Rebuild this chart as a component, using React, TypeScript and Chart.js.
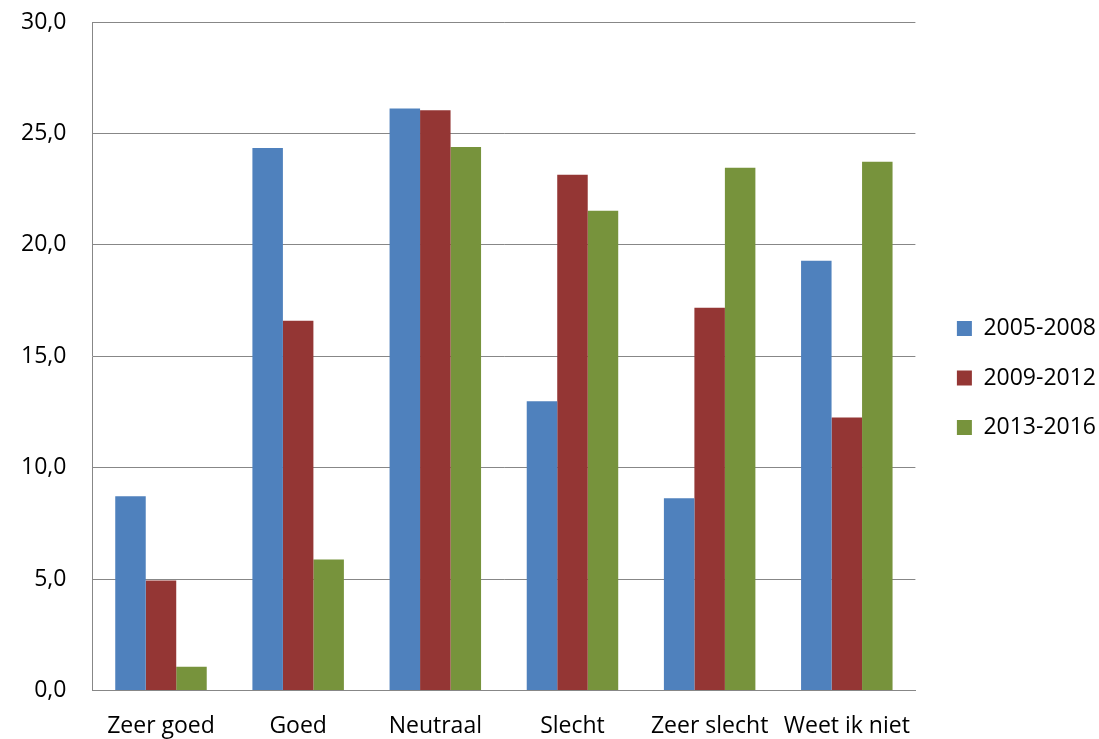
import React, { useEffect, useRef } from "react";
import { Chart, registerables } from "chart.js";

Chart.register(...registerables);

const categories = ["Zeer goed", "Goed", "Neutraal", "Slecht", "Zeer slecht", "Weet ik niet"];
const seriesNames = ["2005-2008", "2009-2012", "2013-2016"];
const values2005 = [8.71, 24.35, 26.12, 12.98, 8.62, 19.28];
const values2009 = [4.93, 16.59, 26.04, 23.14, 17.17, 12.25];
const values2013 = [1.06, 5.87, 24.39, 21.53, 23.46, 23.73];
const seriesColors = ["#4F81BD", "#943634", "#77933C"];

const FONT = "'Open Sans', 'Liberation Sans', sans-serif";

const legendShift = {
  id: "legendShift",
  afterLayout(chart: any) {
    const l = chart.legend;
    if (!l) return;
    const dx = 15;
    const dy = -14;
    l.left += dx;
    l.right += dx;
    l.top += dy;
    l.bottom += dy;
  },
};

export default function App() {
  const ref = useRef<HTMLCanvasElement | null>(null);
  useEffect(() => {
    if (!ref.current) return;
    const chart = new Chart(ref.current, {
      type: "bar",
      data: {
        labels: categories,
        datasets: [values2005, values2009, values2013].map((vals, i) => ({
          label: seriesNames[i],
          data: vals,
          backgroundColor: seriesColors[i],
          borderWidth: 0,
          categoryPercentage: 0.667,
          barPercentage: 1.0,
        })),
      },
      options: {
        animation: false,
        responsive: true,
        maintainAspectRatio: false,
        layout: { padding: { left: -5, right: 8, top: 22, bottom: -23 } },
        plugins: {
          tooltip: { enabled: false },
          legend: {
            position: "right",
            align: "center",
            labels: {
              boxWidth: 15,
              boxHeight: 15,
              padding: 26.5,
              color: "#000",
              font: { family: FONT, size: 23 },
            },
          },
        },
        scales: {
          x: {
            grid: { display: false, drawTicks: false },
            border: { display: true, color: "#878787", width: 1 },
            ticks: {
              color: "#000",
              padding: 22,
              font: { family: FONT, size: 23 },
              maxRotation: 0,
              autoSkip: false,
            },
          },
          y: {
            min: 0,
            max: 30,
            afterFit: (scale: any) => {
              scale.paddingTop = 0;
            },
            grid: { color: "#878787", lineWidth: 1, drawTicks: false },
            border: { display: true, color: "#878787", width: 1 },
            ticks: {
              stepSize: 5,
              color: "#000",
              padding: 26,
              font: { family: FONT, size: 23 },
              callback: (v: any) => Number(v).toFixed(1).replace(".", ","),
            },
          },
        },
      },
      plugins: [legendShift],
    });
    return () => chart.destroy();
  }, []);
  return (
    <div style={{ position: "fixed", left: 0, top: 0, width: 1099, height: 739, background: "#fff" }}>
      <canvas ref={ref} />
    </div>
  );
}
